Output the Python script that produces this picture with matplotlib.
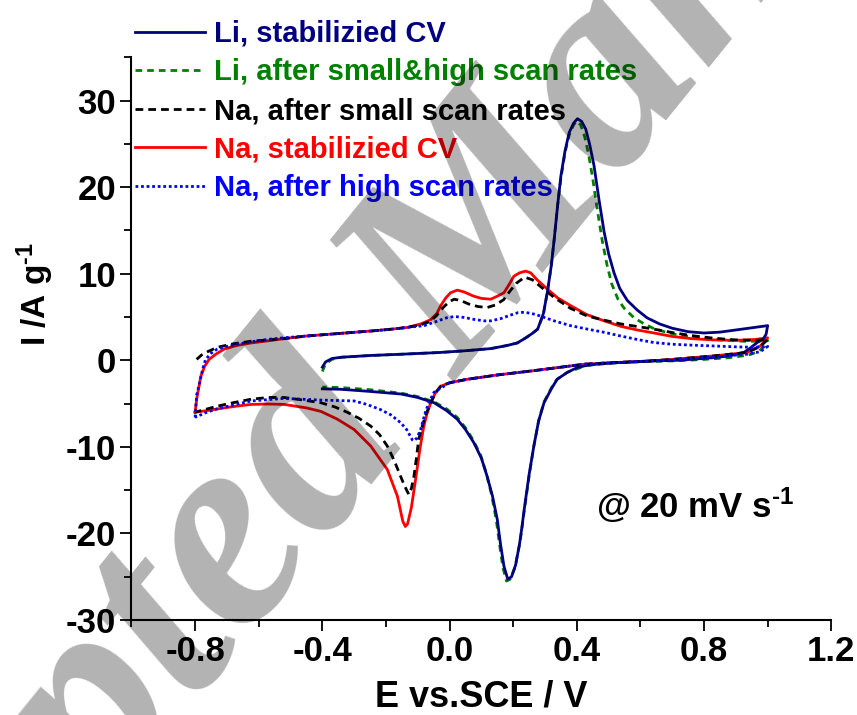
import matplotlib.pyplot as plt

plt.rcParams['font.family'] = ['Liberation Sans', 'DejaVu Sans']
plt.rcParams['font.weight'] = 'bold'
plt.rcParams['mathtext.fontset'] = 'custom'
plt.rcParams['mathtext.rm'] = 'Liberation Sans:bold'
plt.rcParams['mathtext.bf'] = 'Liberation Sans:bold'
plt.rcParams['mathtext.default'] = 'bf'

# ---- data (E in V vs SCE, I in A/g) ----
# Li, stabilizied CV
li_stab_E = [-0.400, -0.390, -0.370, -0.340, -0.250, -0.150, -0.030, 0.050, 0.130, 0.180, 0.213, 0.240,
             0.260, 0.277, 0.295, 0.308, 0.320, 0.329, 0.340, 0.350, 0.363, 0.376, 0.390, 0.402, 0.415,
             0.428, 0.440, 0.454, 0.470, 0.486, 0.500, 0.517, 0.535, 0.559, 0.590, 0.621, 0.660, 0.700,
             0.750, 0.800, 0.850, 0.900, 0.950, 1.000,
             0.995, 0.985, 0.967, 0.945, 0.925, 0.880, 0.830, 0.720, 0.621, 0.520, 0.474, 0.430, 0.401,
             0.370, 0.338, 0.320, 0.297, 0.280, 0.265, 0.250, 0.242, 0.234, 0.227, 0.220, 0.208, 0.195,
             0.183, 0.171, 0.160, 0.150, 0.135, 0.118, 0.100, 0.076, 0.050, 0.024, -0.010, -0.049,
             -0.100, -0.152, -0.250, -0.343, -0.400]
li_stab_I = [-0.8, -0.2, 0.2, 0.35, 0.55, 0.7, 0.9, 1.1, 1.35, 1.7, 2.0, 2.6,
             3.1, 3.6, 5.4, 8.0, 11.0, 14.0, 18.0, 21.3, 24.2, 26.3, 27.4, 27.9, 27.6,
             26.7, 25.0, 22.5, 18.5, 14.8, 12.3, 10.1, 8.3, 6.9, 5.8, 4.9, 4.2, 3.7,
             3.3, 3.15, 3.25, 3.5, 3.75, 4.0,
             3.0, 2.4, 2.05, 1.4, 0.9, 0.5, 0.3, 0.0, -0.1, -0.3, -0.4, -0.6, -0.85,
             -1.4, -2.2, -3.3, -4.9, -7.0, -9.9, -13.2, -15.3, -17.4, -19.4, -21.2, -23.6, -25.0,
             -25.3, -23.8, -21.2, -18.4, -15.7, -13.4, -11.3, -9.5, -8.0, -6.8, -5.8, -4.9,
             -4.3, -3.9, -3.6, -3.35, -3.3]

# Li, after small&high scan rates
li_after_E = [-0.400, -0.390, -0.370, -0.340, -0.250, -0.150, -0.030, 0.050, 0.130, 0.180, 0.213, 0.240,
              0.260, 0.277, 0.295, 0.308, 0.320, 0.329, 0.340, 0.350, 0.363, 0.376, 0.390, 0.400, 0.412,
              0.425, 0.437, 0.450, 0.464, 0.480, 0.495, 0.510, 0.530, 0.549, 0.580, 0.612, 0.640, 0.675,
              0.720, 0.780, 0.850, 0.920, 0.970, 1.000,
              0.990, 0.970, 0.940, 0.880, 0.800, 0.720, 0.620, 0.520, 0.430, 0.370, 0.338, 0.320, 0.297,
              0.280, 0.265, 0.250, 0.242, 0.234, 0.227, 0.220, 0.205, 0.190, 0.179, 0.168, 0.158, 0.147,
              0.132, 0.115, 0.098, 0.074, 0.050, 0.024, -0.010, -0.049, -0.100, -0.152, -0.250, -0.343,
              -0.400]
li_after_I = [-1.3, -0.4, 0.1, 0.35, 0.55, 0.7, 0.9, 1.1, 1.35, 1.7, 2.0, 2.6,
              3.1, 3.6, 5.3, 8.0, 11.0, 14.0, 18.0, 21.0, 24.0, 26.0, 27.2, 27.6, 27.2,
              25.8, 23.8, 21.0, 17.5, 13.8, 11.0, 8.8, 7.0, 6.0, 4.9, 4.2, 3.7, 3.3,
              2.9, 2.6, 2.35, 2.2, 2.2, 2.3,
              1.6, 1.0, 0.6, 0.3, 0.1, -0.05, -0.15, -0.3, -0.6, -1.4, -2.2, -3.2, -4.8,
              -7.0, -9.9, -13.4, -15.5, -17.6, -19.6, -21.3, -24.0, -25.3, -25.5, -24.0, -21.5, -18.5,
              -15.5, -13.0, -11.0, -9.2, -7.8, -6.6, -5.6, -4.8, -4.2, -3.8, -3.4, -3.15,
              -3.1]

# Na, after small scan rates
na_small_E = [-0.795, -0.780, -0.760, -0.730, -0.680, -0.624, -0.570, -0.520, -0.450, -0.380, -0.310,
              -0.240, -0.180, -0.132, -0.090, -0.060, -0.040, -0.020, 0.000, 0.015, 0.035, 0.060, 0.090,
              0.119, 0.145, 0.170, 0.190, 0.210, 0.236, 0.260, 0.290, 0.329, 0.380, 0.433, 0.490, 0.538,
              0.590, 0.642, 0.700, 0.760, 0.830, 0.900, 0.960, 1.000,
              0.977, 0.935, 0.830, 0.700, 0.621, 0.500, 0.422, 0.265, 0.150, 0.055, 0.000, -0.028,
              -0.045, -0.060, -0.075, -0.088, -0.097, -0.105, -0.112, -0.120, -0.128, -0.135, -0.145,
              -0.154, -0.175, -0.196, -0.220, -0.248, -0.285, -0.322, -0.360, -0.405, -0.460, -0.520,
              -0.570, -0.624, -0.680, -0.730, -0.770, -0.800]
na_small_I = [0.1, 0.6, 1.0, 1.5, 1.9, 2.2, 2.35, 2.5, 2.8, 3.0, 3.2,
              3.4, 3.6, 3.8, 4.1, 4.5, 5.2, 6.1, 6.8, 7.05, 6.9, 6.5, 6.2,
              6.1, 6.4, 7.0, 8.0, 8.9, 9.6, 9.3, 8.4, 7.25, 6.0, 5.1, 4.6, 4.2,
              3.9, 3.6, 3.2, 2.85, 2.55, 2.35, 2.3, 2.4,
              1.6, 0.9, 0.5, 0.1, -0.1, -0.3, -0.46, -1.2, -1.7, -2.2, -2.6, -3.0,
              -3.8, -5.0, -6.3, -7.9, -9.1, -11.5, -13.4, -14.8, -15.5, -15.0, -14.2,
              -13.4, -11.5, -9.9, -8.6, -7.6, -6.7, -6.0, -5.4, -4.9, -4.6, -4.3,
              -4.3, -4.5, -4.9, -5.3, -5.7, -6.0]

# Na, stabilizied CV
na_stab_E = [-0.800, -0.795, -0.782, -0.770, -0.756, -0.735, -0.708, -0.670, -0.624, -0.570, -0.520,
             -0.450, -0.380, -0.310, -0.240, -0.180, -0.132, -0.090, -0.059, -0.040, -0.028, -0.012,
             0.003, 0.024, 0.045, 0.076, 0.100, 0.129, 0.150, 0.171, 0.188, 0.202, 0.220, 0.239, 0.255,
             0.275, 0.308, 0.340, 0.381, 0.430, 0.486, 0.540, 0.590, 0.650, 0.700, 0.760, 0.830, 0.900,
             0.960, 1.000,
             0.977, 0.935, 0.830, 0.700, 0.621, 0.500, 0.422, 0.265, 0.150, 0.055, 0.000, -0.028,
             -0.045, -0.060, -0.072, -0.082, -0.093, -0.107, -0.120, -0.132, -0.139, -0.147, -0.164,
             -0.196, -0.248, -0.300, -0.353, -0.405, -0.450, -0.520, -0.570, -0.624, -0.670, -0.708,
             -0.750, -0.800]
na_stab_I = [-6.0, -4.5, -1.85, -0.7, 0.1, 0.7, 1.3, 1.7, 2.0, 2.25, 2.5,
             2.8, 3.0, 3.2, 3.4, 3.6, 3.8, 4.2, 4.7, 5.4, 6.3, 7.2,
             7.8, 8.1, 7.9, 7.4, 7.15, 7.05, 7.4, 7.8, 8.8, 9.7, 10.1, 10.3, 10.1,
             9.3, 8.2, 7.2, 6.3, 5.3, 4.55, 3.9, 3.5, 3.1, 2.75, 2.5, 2.35, 2.3,
             2.4, 2.6,
             1.65, 0.9, 0.5, 0.1, -0.1, -0.3, -0.46, -1.2, -1.7, -2.2, -2.6, -3.0,
             -3.8, -5.0, -6.3, -7.8, -10.2, -13.8, -17.0, -18.9, -19.2, -18.6, -15.7,
             -12.6, -9.9, -8.0, -6.8, -5.9, -5.5, -5.1, -5.05, -5.1, -5.3, -5.5,
             -5.75, -6.0]

# Na, after high scan rates
na_high_E = [-0.800, -0.795, -0.785, -0.776, -0.767, -0.750, -0.730, -0.700, -0.670, -0.620, -0.574,
             -0.520, -0.450, -0.380, -0.310, -0.240, -0.180, -0.132, -0.080, -0.040, -0.010, 0.015,
             0.045, 0.080, 0.110, 0.129, 0.160, 0.190, 0.215, 0.236, 0.270, 0.329, 0.380, 0.433, 0.490,
             0.538, 0.590, 0.642, 0.700, 0.760, 0.830, 0.900, 0.960, 1.000,
             0.977, 0.935, 0.830, 0.700, 0.621, 0.500, 0.422, 0.265, 0.150, 0.055, 0.000, -0.049,
             -0.065, -0.076, -0.091, -0.103, -0.112, -0.117, -0.135, -0.154, -0.185, -0.217, -0.260,
             -0.300, -0.405, -0.520, -0.624, -0.730, -0.770, -0.800]
na_high_I = [-6.6, -4.0, -2.5, -1.0, 0.1, 0.8, 1.3, 1.6, 1.85, 2.15, 2.4,
             2.6, 2.8, 3.0, 3.2, 3.4, 3.6, 3.8, 4.0, 4.5, 4.9, 5.05,
             4.95, 4.7, 4.55, 4.55, 4.8, 5.2, 5.5, 5.55, 5.3, 4.55, 4.0, 3.6, 3.2,
             2.8, 2.4, 2.05, 1.85, 1.75, 1.65, 1.55, 1.5, 1.6,
             1.0, 0.7, 0.4, 0.05, -0.1, -0.3, -0.46, -1.2, -1.7, -2.2, -2.6, -3.7,
             -4.9, -6.0, -8.0, -9.0, -9.3, -9.2, -8.0, -7.2, -6.3, -5.7, -5.1,
             -4.7, -4.6, -4.4, -4.7, -5.6, -6.1, -6.6]

labels = ['Li, stabilizied CV', 'Li, after small&high scan rates', 'Na, after small scan rates',
          'Na, stabilizied CV', 'Na, after high scan rates']
colors = ['#000080', '#008000', 'black', '#ff0000', '#0000ff']

fig = plt.figure(figsize=(8.57, 7.15), dpi=100)
ax = fig.add_axes([0.1534, 0.1329, 0.8166, 0.787])

lw = 2.0
ax.plot(li_after_E, li_after_I, color=colors[1], lw=lw, dashes=(2.4, 1.8), label=labels[1], zorder=2)
ax.plot(li_stab_E, li_stab_I, color=colors[0], lw=lw, label=labels[0], zorder=3)
ax.plot(na_stab_E, na_stab_I, color=colors[3], lw=lw, label=labels[3], zorder=2)
ax.plot(na_small_E, na_small_I, color=colors[2], lw=lw, dashes=(2.8, 1.8), label=labels[2], zorder=3)
ax.plot(na_high_E, na_high_I, color=colors[4], lw=lw, dashes=(1.0, 1.0), label=labels[4], zorder=4)

ax.set_xlim(-1.0, 1.2)
ax.set_ylim(-30, 35)
ax.set_xticks([-0.8, -0.4, 0.0, 0.4, 0.8, 1.2])
ax.set_xticks([-1.0, -0.6, -0.2, 0.2, 0.6, 1.0], minor=True)
ax.set_yticks([-30, -20, -10, 0, 10, 20, 30])
ax.set_yticks([-25, -15, -5, 5, 15, 25, 35], minor=True)
ax.set_xticklabels(['-0.8', '-0.4', '0.0', '0.4', '0.8', '1.2'])
ax.set_yticklabels(['-30', '-20', '-10', '0', '10', '20', '30'])
ax.tick_params(which='major', length=8, width=1.3, labelsize=25, pad=3)
ax.tick_params(which='minor', length=5, width=1.3)
for sp in ['top', 'right']:
    ax.spines[sp].set_visible(False)
for sp in ['left', 'bottom']:
    ax.spines[sp].set_linewidth(1.5)

ax.set_xlabel('E vs.SCE / V', fontsize=26, fontweight='bold')
ax.xaxis.set_label_coords(0.5, -0.105)
ax.set_ylabel(r'I /A g$^{\text{-1}}$', fontsize=24, fontweight='bold')
ax.yaxis.set_label_coords(-0.108, 0.58)

ax.text(0.46, -18.2, r'@ 20 mV s$^{\text{-1}}$', fontsize=25, fontweight='bold', va='baseline')

handles, labs = ax.get_legend_handles_labels()
order = [labs.index(l) for l in labels]
fig.legend([handles[i] for i in order], labels, loc='upper left',
           bbox_to_anchor=(135 / 857, 1 - 20 / 715), frameon=False,
           handlelength=2.4, handletextpad=0.3, labelspacing=0.36, borderpad=0,
           borderaxespad=0, labelcolor='linecolor', prop={'weight': 'bold', 'size': 21})

# manuscript watermark
fig.text(0.625, 0.58, 'Accepted Manuscript', rotation=51, rotation_mode='anchor',
         ha='center', va='baseline', fontsize=205, family='Liberation Serif', style='italic',
         fontweight='bold', color='black', alpha=0.3, zorder=10)

fig.savefig('out.png', dpi=100)
